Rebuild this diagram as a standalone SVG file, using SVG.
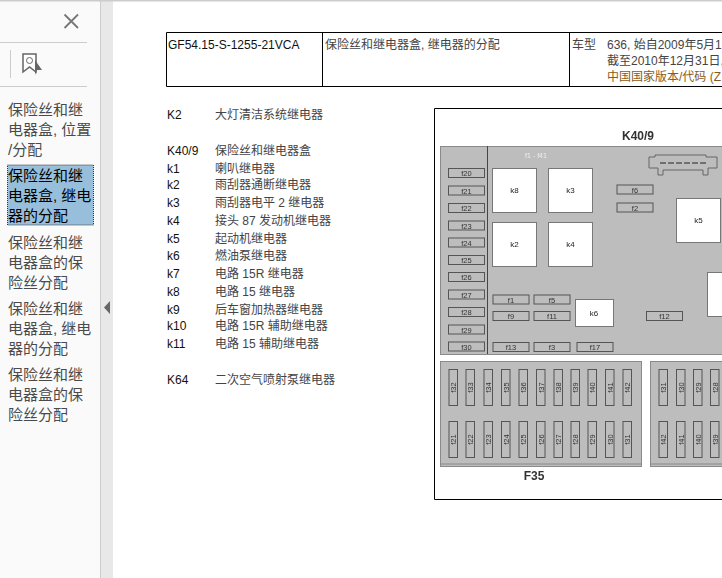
<svg xmlns="http://www.w3.org/2000/svg" width="722" height="578" viewBox="0 0 722 578">
<style>
text{font-family:"Liberation Sans","Noto Sans CJK SC",sans-serif}
.nav{font-size:15px;fill:#4a4a4a}
.sel{font-size:15px;fill:#000}
.t{font-size:12px;fill:#444}
.k{font-size:12px;fill:#111}
.rule{stroke:#ccc;stroke-width:1;fill:none}
.frame{fill:none;stroke:#000;stroke-width:1}
.panel{fill:#bdbdbd;stroke:#8a8a8a;stroke-width:1}
.fuse{fill:#bdbdbd;stroke:#555;stroke-width:1}
.relay{fill:#fff;stroke:#777;stroke-width:1}
.fl{font-size:7.5px;fill:#333;text-anchor:middle}
.vl{font-size:7.5px;fill:#333;text-anchor:middle}
.rl{font-size:8px;fill:#222;text-anchor:middle}
.h{font-size:12px;font-weight:bold;fill:#333;text-anchor:middle}
</style>
<defs>
<filter id="soft" x="-2%" y="-2%" width="104%" height="104%"><feGaussianBlur stdDeviation="0.35"/></filter>
<rect id="hf" class="fuse" x="0" y="0" width="36" height="9"/>
<rect id="vf" class="fuse" x="0" y="0" width="8.5" height="36"/>
</defs>
<rect width="722" height="578" fill="#fff"/>
<g id="sidebar">
<rect x="0" y="0" width="100" height="578" fill="#fafafa"/>
<rect x="100" y="0" width="13" height="578" fill="#e8e8e8"/>
<line x1="100.500" y1="0" x2="100.500" y2="578" class="rule"/>
<rect x="0" y="0" width="722" height="1.500" fill="#ccc"/>
<path d="M64.500 14.500L78 28M78 14.500L64.500 28" stroke="#777" stroke-width="1.800" fill="none"/>
<line x1="0" y1="42.500" x2="87" y2="42.500" class="rule"/>
<line x1="10.500" y1="50" x2="10.500" y2="78" class="rule"/>
<path d="M23 54H36V72L29.500 67L23 72Z" fill="#fff" stroke="#666" stroke-width="1.500"/>
<circle cx="29.500" cy="60.500" r="3" fill="none" stroke="#666"/>
<path d="M35 60L42 70L37 70L35 75Z" fill="#666"/>
<line x1="0" y1="86.500" x2="87" y2="86.500" class="rule"/>
<text class="nav" x="8" y="115">保险丝和继</text><text class="nav" x="8" y="135">电器盒, 位置</text><text class="nav" x="8" y="155">/分配</text>
<rect x="7.500" y="165" width="86" height="60" fill="#97bfdc" stroke="#333" stroke-dasharray="1 1"/>
<text class="sel" x="8" y="181">保险丝和继</text><text class="sel" x="8" y="201">电器盒, 继电</text><text class="sel" x="8" y="221">器的分配</text>
<text class="nav" x="8" y="248">保险丝和继</text><text class="nav" x="8" y="268">电器盒的保</text><text class="nav" x="8" y="288">险丝分配</text>
<text class="nav" x="8" y="314">保险丝和继</text><text class="nav" x="8" y="334">电器盒, 继电</text><text class="nav" x="8" y="354">器的分配</text>
<text class="nav" x="8" y="380">保险丝和继</text><text class="nav" x="8" y="400">电器盒的保</text><text class="nav" x="8" y="420">险丝分配</text>
<path d="M110 301V314L104 307.500Z" fill="#666"/>
</g>
<g id="header">
<path class="frame" d="M166.500 32.500H722M166.500 86.500H722M166.500 32.500V86.500M322.500 32.500V86.500M569.500 32.500V86.500"/>
<text class="k" x="168" y="49">GF54.15-S-1255-21VCA</text>
<text class="t" x="325" y="49">保险丝和继电器盒, 继电器的分配</text>
<text class="t" x="572" y="49">车型</text>
<text class="t" x="607" y="49">636, 始自2009年5月1</text>
<text class="t" x="607" y="65">截至2010年12月31日,</text>
<text class="t" x="607" y="81" fill="#a05a10" style="fill:#8a5a20">中国国家版本/代码 (Z</text>
</g>
<g id="legend">
<text class="k" x="167" y="119">K2</text><text class="t" x="215" y="119">大灯清洁系统继电器</text>
<text class="k" x="167" y="155">K40/9</text><text class="t" x="215" y="155">保险丝和继电器盒</text>
<text class="k" x="167" y="173">k1</text><text class="t" x="215" y="173">喇叭继电器</text>
<text class="k" x="167" y="189">k2</text><text class="t" x="215" y="189">雨刮器通断继电器</text>
<text class="k" x="167" y="207">k3</text><text class="t" x="215" y="207">雨刮器电平 2 继电器</text>
<text class="k" x="167" y="225">k4</text><text class="t" x="215" y="225">接头 87 发动机继电器</text>
<text class="k" x="167" y="243">k5</text><text class="t" x="215" y="243">起动机继电器</text>
<text class="k" x="167" y="260">k6</text><text class="t" x="215" y="260">燃油泵继电器</text>
<text class="k" x="167" y="278">k7</text><text class="t" x="215" y="278">电路 15R 继电器</text>
<text class="k" x="167" y="296">k8</text><text class="t" x="215" y="296">电路 15 继电器</text>
<text class="k" x="167" y="314">k9</text><text class="t" x="215" y="314">后车窗加热器继电器</text>
<text class="k" x="167" y="330">k10</text><text class="t" x="215" y="330">电路 15R 辅助继电器</text>
<text class="k" x="167" y="348">k11</text><text class="t" x="215" y="348">电路 15 辅助继电器</text>
<text class="k" x="167" y="384">K64</text><text class="t" x="215" y="384">二次空气喷射泵继电器</text>
</g>
<path id="frame" class="frame" d="M722 108.500H434.500V499.500H722"/>
<g id="plan" filter="url(#soft)">
<text class="h" x="638" y="140">K40/9</text>
<rect class="panel" x="440.500" y="146.500" width="290" height="208"/>
<line x1="487.500" y1="146" x2="487.500" y2="354" stroke="#444"/>
<text x="536" y="158" font-size="7" fill="#eee" text-anchor="middle">f1 - f41</text>
<path d="M649 157H655V155H706V157H717V168H708V175H703V170H663V175H658V168H649Z" fill="#bdbdbd" stroke="#666"/>
<path d="M660 163H706" stroke="#555" stroke-dasharray="6 2" stroke-width="1.500"/>
<g id="left-fuses">
<use href="#hf" x="448.500" y="168.500"/><text class="fl" x="466.500" y="176">f20</text>
<use href="#hf" x="448.500" y="186"/><text class="fl" x="466.500" y="193.500">f21</text>
<use href="#hf" x="448.500" y="203.500"/><text class="fl" x="466.500" y="211">f22</text>
<use href="#hf" x="448.500" y="221"/><text class="fl" x="466.500" y="228.500">f23</text>
<use href="#hf" x="448.500" y="238"/><text class="fl" x="466.500" y="245.500">f24</text>
<use href="#hf" x="448.500" y="255.500"/><text class="fl" x="466.500" y="263">f25</text>
<use href="#hf" x="448.500" y="272.500"/><text class="fl" x="466.500" y="280">f26</text>
<use href="#hf" x="448.500" y="290"/><text class="fl" x="466.500" y="297.500">f27</text>
<use href="#hf" x="448.500" y="307.500"/><text class="fl" x="466.500" y="315">f28</text>
<use href="#hf" x="448.500" y="325"/><text class="fl" x="466.500" y="332.500">f29</text>
<use href="#hf" x="448.500" y="342"/><text class="fl" x="466.500" y="349.500">f30</text>
</g>
<g id="relays">
<rect class="relay" x="492.500" y="168.500" width="44" height="44"/><text class="rl" x="514.500" y="193">k8</text>
<rect class="relay" x="548.500" y="168.500" width="44" height="44"/><text class="rl" x="570.500" y="193">k3</text>
<rect class="relay" x="492.500" y="222.500" width="44" height="44"/><text class="rl" x="514.500" y="247">k2</text>
<rect class="relay" x="548.500" y="222.500" width="44" height="44"/><text class="rl" x="570.500" y="247">k4</text>
<rect class="relay" x="676.500" y="198.500" width="44" height="44"/><text class="rl" x="698.500" y="223">k5</text>
<rect class="relay" x="707.500" y="272.500" width="44" height="44"/>
<rect class="relay" x="575.500" y="299.500" width="38" height="27"/><text class="rl" x="594" y="316">k6</text>
</g>
<g id="mid-fuses">
<use href="#hf" x="493" y="295"/><text class="fl" x="511" y="302.500">f1</text>
<use href="#hf" x="534" y="295"/><text class="fl" x="552" y="302.500">f5</text>
<use href="#hf" x="493" y="311.500"/><text class="fl" x="511" y="319">f9</text>
<use href="#hf" x="534" y="311.500"/><text class="fl" x="552" y="319">f11</text>
<use href="#hf" x="646.500" y="311.500"/><text class="fl" x="664.500" y="319">f12</text>
<use href="#hf" x="493" y="342.500"/><text class="fl" x="511" y="350">f13</text>
<use href="#hf" x="534" y="342.500"/><text class="fl" x="552" y="350">f3</text>
<use href="#hf" x="577" y="342.500"/><text class="fl" x="595" y="350">f17</text>
<use href="#hf" x="617" y="185"/><text class="fl" x="635" y="192.500">f6</text>
<use href="#hf" x="617" y="203"/><text class="fl" x="635" y="210.500">f2</text>
</g>
<g id="F35">
<rect class="panel" x="440.500" y="361.500" width="201" height="105"/>
<line x1="441" y1="464" x2="641" y2="464" stroke="#888"/>
<use href="#vf" x="449" y="369.500"/><text class="vl" transform="translate(456 387.500) rotate(-90)">f32</text>
<use href="#vf" x="466" y="369.500"/><text class="vl" transform="translate(473 387.500) rotate(-90)">f33</text>
<use href="#vf" x="484" y="369.500"/><text class="vl" transform="translate(491 387.500) rotate(-90)">f34</text>
<use href="#vf" x="501.500" y="369.500"/><text class="vl" transform="translate(508.500 387.500) rotate(-90)">f35</text>
<use href="#vf" x="519" y="369.500"/><text class="vl" transform="translate(526 387.500) rotate(-90)">f36</text>
<use href="#vf" x="536.500" y="369.500"/><text class="vl" transform="translate(543.500 387.500) rotate(-90)">f37</text>
<use href="#vf" x="554" y="369.500"/><text class="vl" transform="translate(561 387.500) rotate(-90)">f38</text>
<use href="#vf" x="571" y="369.500"/><text class="vl" transform="translate(578 387.500) rotate(-90)">f39</text>
<use href="#vf" x="588" y="369.500"/><text class="vl" transform="translate(595 387.500) rotate(-90)">f40</text>
<use href="#vf" x="605.500" y="369.500"/><text class="vl" transform="translate(612.500 387.500) rotate(-90)">f41</text>
<use href="#vf" x="623" y="369.500"/><text class="vl" transform="translate(630 387.500) rotate(-90)">f42</text>
<use href="#vf" x="449" y="421.500"/><text class="vl" transform="translate(456 439.500) rotate(-90)">f21</text>
<use href="#vf" x="466" y="421.500"/><text class="vl" transform="translate(473 439.500) rotate(-90)">f22</text>
<use href="#vf" x="484" y="421.500"/><text class="vl" transform="translate(491 439.500) rotate(-90)">f23</text>
<use href="#vf" x="501.500" y="421.500"/><text class="vl" transform="translate(508.500 439.500) rotate(-90)">f24</text>
<use href="#vf" x="519" y="421.500"/><text class="vl" transform="translate(526 439.500) rotate(-90)">f25</text>
<use href="#vf" x="536.500" y="421.500"/><text class="vl" transform="translate(543.500 439.500) rotate(-90)">f26</text>
<use href="#vf" x="554" y="421.500"/><text class="vl" transform="translate(561 439.500) rotate(-90)">f27</text>
<use href="#vf" x="571" y="421.500"/><text class="vl" transform="translate(578 439.500) rotate(-90)">f28</text>
<use href="#vf" x="588" y="421.500"/><text class="vl" transform="translate(595 439.500) rotate(-90)">f29</text>
<use href="#vf" x="605.500" y="421.500"/><text class="vl" transform="translate(612.500 439.500) rotate(-90)">f30</text>
<use href="#vf" x="623" y="421.500"/><text class="vl" transform="translate(630 439.500) rotate(-90)">f31</text>
<text class="h" x="534" y="480">F35</text>
</g>
<g id="second-panel">
<rect class="panel" x="650.500" y="361.500" width="90" height="105"/>
<line x1="651" y1="464" x2="722" y2="464" stroke="#888"/>
<use href="#vf" x="659" y="369.500"/><text class="vl" transform="translate(666 387.500) rotate(-90)">f31</text>
<use href="#vf" x="676.500" y="369.500"/><text class="vl" transform="translate(683.500 387.500) rotate(-90)">f30</text>
<use href="#vf" x="693.500" y="369.500"/><text class="vl" transform="translate(700.500 387.500) rotate(-90)">f29</text>
<use href="#vf" x="710.500" y="369.500"/><text class="vl" transform="translate(717.500 387.500) rotate(-90)">f28</text>
<use href="#vf" x="659" y="421.500"/><text class="vl" transform="translate(666 439.500) rotate(-90)">f42</text>
<use href="#vf" x="676.500" y="421.500"/><text class="vl" transform="translate(683.500 439.500) rotate(-90)">f41</text>
<use href="#vf" x="693.500" y="421.500"/><text class="vl" transform="translate(700.500 439.500) rotate(-90)">f40</text>
<use href="#vf" x="710.500" y="421.500"/><text class="vl" transform="translate(717.500 439.500) rotate(-90)">f39</text>
</g>
</g>
</svg>
